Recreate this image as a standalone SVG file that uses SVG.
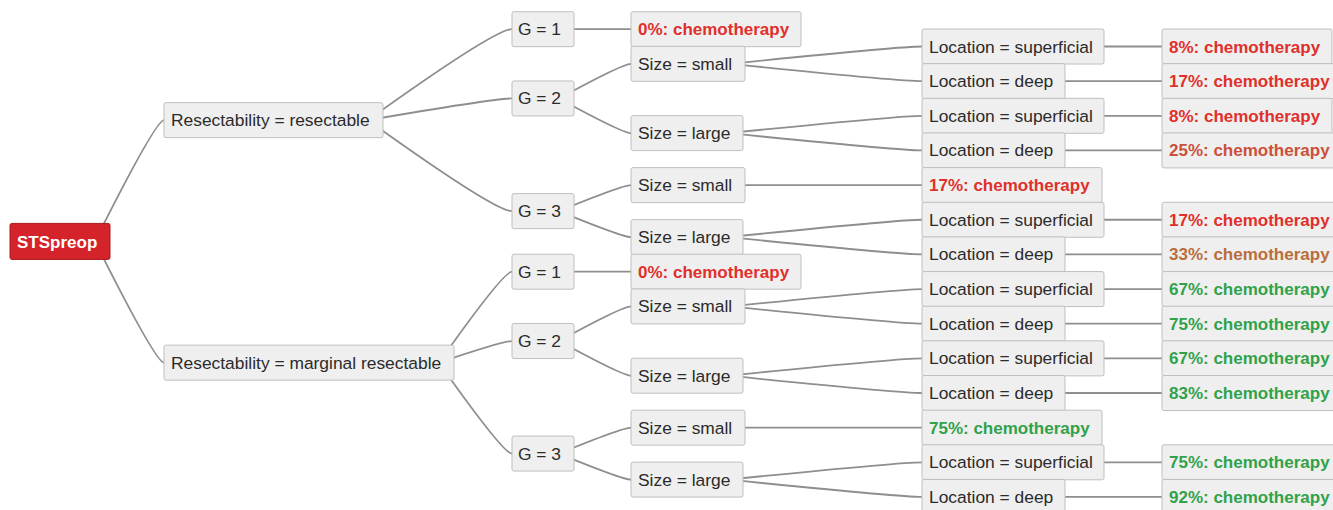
<svg xmlns="http://www.w3.org/2000/svg" width="1333" height="510" viewBox="0 0 1333 510">
<style>
.bx{fill:#efefef;stroke:#bfbfbf;stroke-width:1}
.rt{fill:#d4232a;stroke:#a81a1e;stroke-width:1}
text{font-family:"Liberation Sans",Arial,sans-serif;font-size:17px}
.t{fill:#2b2b2b;font-size:17.4px}
.tw{fill:#ffffff;font-weight:bold}
.r{fill:#e0302c;font-weight:bold}
.o{fill:#cc4f3a;font-weight:bold}
.b{fill:#b96d3c;font-weight:bold}
.g{fill:#30a24a;font-weight:bold}
#connectors path{fill:none;stroke:#8e8e8e;stroke-width:1.8}
</style>
<rect width="1333" height="510" fill="#ffffff"/>
<g id="connectors">
<path d="M95,241.4 Q155.7,120.15 164,120.15"/>
<path d="M95,241.4 Q155.7,362.65 164,362.65"/>
<path d="M368,120.15 Q494.7,29.2 512,29.2"/>
<path d="M368,120.15 Q494.7,98.45 512,98.45"/>
<path d="M368,120.15 Q494.7,211.1 512,211.1"/>
<path d="M439,362.65 Q503.2,271.7 512,271.7"/>
<path d="M439,362.65 Q503.2,341.05 512,341.05"/>
<path d="M439,362.65 Q503.2,453.6 512,453.6"/>
<path d="M559,29.2 L631,29.2"/>
<path d="M559,98.45 Q622.4,63.8 631,63.8"/>
<path d="M559,98.45 Q622.4,133.1 631,133.1"/>
<path d="M559,211.1 Q622.4,185.1 631,185.1"/>
<path d="M559,211.1 Q622.4,237.1 631,237.1"/>
<path d="M559,271.7 L631,271.7"/>
<path d="M559,341.05 Q622.4,306.4 631,306.4"/>
<path d="M559,341.05 Q622.4,375.7 631,375.7"/>
<path d="M559,453.6 Q622.4,427.65 631,427.65"/>
<path d="M559,453.6 Q622.4,479.6 631,479.6"/>
<path d="M730,63.8 Q899,46.5 922,46.5"/>
<path d="M730,63.8 Q899,81.15 922,81.15"/>
<path d="M728,133.1 Q899,115.8 922,115.8"/>
<path d="M728,133.1 Q899,150.45 922,150.45"/>
<path d="M730,185.1 L922,185.1"/>
<path d="M728,237.1 Q899,219.75 922,219.75"/>
<path d="M728,237.1 Q899,254.4 922,254.4"/>
<path d="M730,306.4 Q899,289.05 922,289.05"/>
<path d="M730,306.4 Q899,323.7 922,323.7"/>
<path d="M728,375.7 Q899,358.35 922,358.35"/>
<path d="M728,375.7 Q899,393 922,393"/>
<path d="M730,427.65 L922,427.65"/>
<path d="M728,479.6 Q899,462.3 922,462.3"/>
<path d="M728,479.6 Q899,496.95 922,496.95"/>
<path d="M1089,46.5 L1162,46.5"/>
<path d="M1050,81.15 L1162,81.15"/>
<path d="M1089,115.8 L1162,115.8"/>
<path d="M1050,150.45 L1162,150.45"/>
<path d="M1089,219.75 L1162,219.75"/>
<path d="M1050,254.4 L1162,254.4"/>
<path d="M1089,289.05 L1162,289.05"/>
<path d="M1050,323.7 L1162,323.7"/>
<path d="M1089,358.35 L1162,358.35"/>
<path d="M1050,393 L1162,393"/>
<path d="M1089,462.3 L1162,462.3"/>
<path d="M1050,496.95 L1162,496.95"/>
</g>
<g id="root"><rect class="rt" x="10" y="223.4" width="100" height="36" rx="2"/><text class="tw" x="17" y="247.6">STSpreop</text></g>
<g id="res"><rect class="bx" x="164" y="102.65" width="219" height="35" rx="2"/><text class="t" x="171" y="126.15">Resectability = resectable</text></g>
<g id="mar"><rect class="bx" x="164" y="345.15" width="290" height="35" rx="2"/><text class="t" x="171" y="368.65">Resectability = marginal resectable</text></g>
<g id="r_g1"><rect class="bx" x="512" y="11.7" width="62" height="35" rx="2"/><text class="t" x="518" y="35.2">G = 1</text></g>
<g id="r_g2"><rect class="bx" x="512" y="80.95" width="62" height="35" rx="2"/><text class="t" x="518" y="104.45">G = 2</text></g>
<g id="r_g3"><rect class="bx" x="512" y="193.6" width="62" height="35" rx="2"/><text class="t" x="518" y="217.1">G = 3</text></g>
<g id="m_g1"><rect class="bx" x="512" y="254.2" width="62" height="35" rx="2"/><text class="t" x="518" y="277.7">G = 1</text></g>
<g id="m_g2"><rect class="bx" x="512" y="323.55" width="62" height="35" rx="2"/><text class="t" x="518" y="347.05">G = 2</text></g>
<g id="m_g3"><rect class="bx" x="512" y="436.1" width="62" height="35" rx="2"/><text class="t" x="518" y="459.6">G = 3</text></g>
<g id="r_g1_leaf"><rect class="bx" x="631" y="11.7" width="170" height="35" rx="2"/><text class="r" x="638" y="35.2">0%: chemotherapy</text></g>
<g id="r_g2_small"><rect class="bx" x="631" y="46.3" width="114" height="35" rx="2"/><text class="t" x="638" y="69.8">Size = small</text></g>
<g id="r_g2_large"><rect class="bx" x="631" y="115.6" width="112" height="35" rx="2"/><text class="t" x="638" y="139.1">Size = large</text></g>
<g id="r_g3_small"><rect class="bx" x="631" y="167.6" width="114" height="35" rx="2"/><text class="t" x="638" y="191.1">Size = small</text></g>
<g id="r_g3_large"><rect class="bx" x="631" y="219.6" width="112" height="35" rx="2"/><text class="t" x="638" y="243.1">Size = large</text></g>
<g id="m_g1_leaf"><rect class="bx" x="631" y="254.2" width="170" height="35" rx="2"/><text class="r" x="638" y="277.7">0%: chemotherapy</text></g>
<g id="m_g2_small"><rect class="bx" x="631" y="288.9" width="114" height="35" rx="2"/><text class="t" x="638" y="312.4">Size = small</text></g>
<g id="m_g2_large"><rect class="bx" x="631" y="358.2" width="112" height="35" rx="2"/><text class="t" x="638" y="381.7">Size = large</text></g>
<g id="m_g3_small"><rect class="bx" x="631" y="410.15" width="114" height="35" rx="2"/><text class="t" x="638" y="433.65">Size = small</text></g>
<g id="m_g3_large"><rect class="bx" x="631" y="462.1" width="112" height="35" rx="2"/><text class="t" x="638" y="485.6">Size = large</text></g>
<g id="loc0"><rect class="bx" x="922" y="29" width="182" height="35" rx="2"/><text class="t" x="929" y="52.5">Location = superficial</text></g>
<g id="loc1"><rect class="bx" x="922" y="63.65" width="143" height="35" rx="2"/><text class="t" x="929" y="87.15">Location = deep</text></g>
<g id="loc2"><rect class="bx" x="922" y="98.3" width="182" height="35" rx="2"/><text class="t" x="929" y="121.8">Location = superficial</text></g>
<g id="loc3"><rect class="bx" x="922" y="132.95" width="143" height="35" rx="2"/><text class="t" x="929" y="156.45">Location = deep</text></g>
<g id="leaf_r_g3_small"><rect class="bx" x="922" y="167.6" width="180" height="35" rx="2"/><text class="r" x="929" y="191.1">17%: chemotherapy</text></g>
<g id="loc5"><rect class="bx" x="922" y="202.25" width="182" height="35" rx="2"/><text class="t" x="929" y="225.75">Location = superficial</text></g>
<g id="loc6"><rect class="bx" x="922" y="236.9" width="143" height="35" rx="2"/><text class="t" x="929" y="260.4">Location = deep</text></g>
<g id="loc7"><rect class="bx" x="922" y="271.55" width="182" height="35" rx="2"/><text class="t" x="929" y="295.05">Location = superficial</text></g>
<g id="loc8"><rect class="bx" x="922" y="306.2" width="143" height="35" rx="2"/><text class="t" x="929" y="329.7">Location = deep</text></g>
<g id="loc9"><rect class="bx" x="922" y="340.85" width="182" height="35" rx="2"/><text class="t" x="929" y="364.35">Location = superficial</text></g>
<g id="loc10"><rect class="bx" x="922" y="375.5" width="143" height="35" rx="2"/><text class="t" x="929" y="399">Location = deep</text></g>
<g id="leaf_m_g3_small"><rect class="bx" x="922" y="410.15" width="180" height="35" rx="2"/><text class="g" x="929" y="433.65">75%: chemotherapy</text></g>
<g id="loc12"><rect class="bx" x="922" y="444.8" width="182" height="35" rx="2"/><text class="t" x="929" y="468.3">Location = superficial</text></g>
<g id="loc13"><rect class="bx" x="922" y="479.45" width="143" height="35" rx="2"/><text class="t" x="929" y="502.95">Location = deep</text></g>
<g id="leaf0"><rect class="bx" x="1162" y="29" width="170" height="35" rx="2"/><text class="r" x="1169" y="52.5">8%: chemotherapy</text></g>
<g id="leaf1"><rect class="bx" x="1162" y="63.65" width="181" height="35" rx="2"/><text class="r" x="1169" y="87.15">17%: chemotherapy</text></g>
<g id="leaf2"><rect class="bx" x="1162" y="98.3" width="170" height="35" rx="2"/><text class="r" x="1169" y="121.8">8%: chemotherapy</text></g>
<g id="leaf3"><rect class="bx" x="1162" y="132.95" width="181" height="35" rx="2"/><text class="o" x="1169" y="156.45">25%: chemotherapy</text></g>
<g id="leaf5"><rect class="bx" x="1162" y="202.25" width="181" height="35" rx="2"/><text class="r" x="1169" y="225.75">17%: chemotherapy</text></g>
<g id="leaf6"><rect class="bx" x="1162" y="236.9" width="181" height="35" rx="2"/><text class="b" x="1169" y="260.4">33%: chemotherapy</text></g>
<g id="leaf7"><rect class="bx" x="1162" y="271.55" width="181" height="35" rx="2"/><text class="g" x="1169" y="295.05">67%: chemotherapy</text></g>
<g id="leaf8"><rect class="bx" x="1162" y="306.2" width="181" height="35" rx="2"/><text class="g" x="1169" y="329.7">75%: chemotherapy</text></g>
<g id="leaf9"><rect class="bx" x="1162" y="340.85" width="181" height="35" rx="2"/><text class="g" x="1169" y="364.35">67%: chemotherapy</text></g>
<g id="leaf10"><rect class="bx" x="1162" y="375.5" width="181" height="35" rx="2"/><text class="g" x="1169" y="399">83%: chemotherapy</text></g>
<g id="leaf12"><rect class="bx" x="1162" y="444.8" width="181" height="35" rx="2"/><text class="g" x="1169" y="468.3">75%: chemotherapy</text></g>
<g id="leaf13"><rect class="bx" x="1162" y="479.45" width="181" height="35" rx="2"/><text class="g" x="1169" y="502.95">92%: chemotherapy</text></g>
</svg>
